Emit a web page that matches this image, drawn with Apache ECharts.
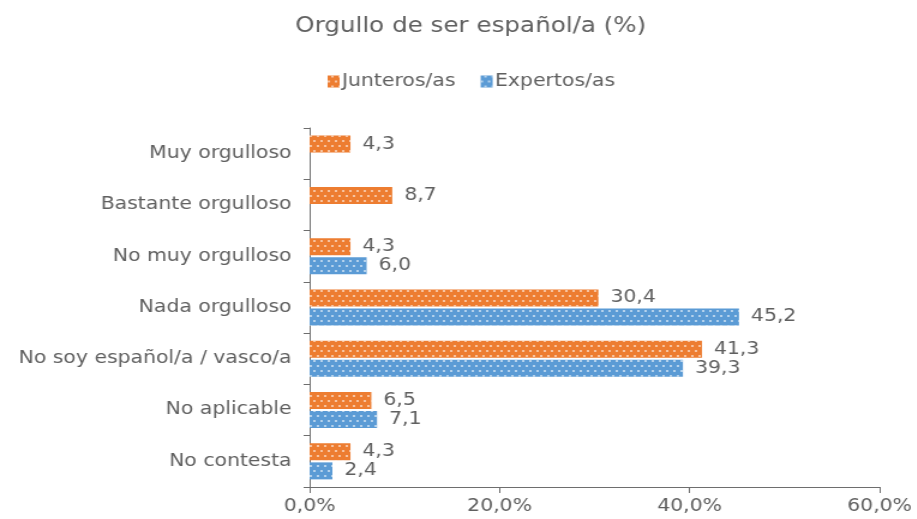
<!DOCTYPE html>
<html>
<head>
<meta charset="utf-8">
<script src="https://cdn.jsdelivr.net/npm/echarts@6/dist/echarts.min.js"></script>
<style>
  html, body { margin: 0; padding: 0; background: #fff; overflow: hidden; }
  /* The chart is laid out on a narrower canvas and widened to fill the page */
  #chart {
    width: 764px;
    height: 519px;
    transform: scaleX(1.2);
    transform-origin: 0 0;
  }
</style>
</head>
<body>
<div id="chart"></div>
<script>
// Categories, top to bottom
const categories = [
  'Muy orgulloso',
  'Bastante orgulloso',
  'No muy orgulloso',
  'Nada orgulloso',
  'No soy español/a / vasco/a',
  'No aplicable',
  'No contesta'
];
const seriesNames = ['Junteros/as', 'Expertos/as'];
const junteros = [4.3, 8.7, 4.3, 30.4, 41.3, 6.5, 4.3];
const expertos = [null, null, 6.0, 45.2, 39.3, 7.1, 2.4];
const xTicks = [0, 20, 40, 60];

const FONT = '"DejaVu Sans", Verdana, sans-serif';
const TEXT = '#606060';
const AXIS = '#6e6e6e';

const fmt = v => v.toFixed(1).replace('.', ',');

// Fine white dot texture laid over the bars
const dots = {
  symbol: 'rect',
  symbolSize: 1,
  color: 'rgba(255,255,255,0.55)',
  dashArrayX: [[1.5, 3.5], [0, 2.5, 1.5, 1]],
  dashArrayY: [1.5, 3],
  rotation: 0
};

function barSeries(name, data, color) {
  return {
    name: name,
    type: 'bar',
    data: data,
    barWidth: 17,
    barGap: '12%',
    itemStyle: { color: color, decal: dots },
    label: {
      show: true,
      position: 'right',
      distance: 10,
      fontFamily: FONT,
      fontSize: 17,
      color: TEXT,
      formatter: p => (p.value == null ? '' : fmt(p.value))
    }
  };
}

const chart = echarts.init(document.getElementById('chart'), null, { renderer: 'canvas' });
chart.setOption({
  animation: false,
  backgroundColor: '#ffffff',
  title: {
    text: 'Orgullo de ser español/a (%)',
    left: 241,
    top: 11,
    textStyle: { fontFamily: FONT, fontSize: 20.5, fontWeight: 'normal', color: TEXT }
  },
  legend: {
    top: 68,
    left: 268,
    itemWidth: 10,
    itemHeight: 12,
    itemGap: 21,
    icon: 'rect',
    textStyle: { fontFamily: FONT, fontSize: 17, color: TEXT, padding: [0, 0, 0, -3] },
    data: seriesNames
  },
  grid: { left: 258, right: 31, top: 128, bottom: 32, containLabel: false },
  xAxis: {
    type: 'value',
    min: xTicks[0],
    max: xTicks[xTicks.length - 1],
    interval: xTicks[1] - xTicks[0],
    splitLine: { show: false },
    axisLine: { show: true, lineStyle: { color: AXIS, width: 1 } },
    axisTick: { show: true, length: 6, lineStyle: { color: AXIS } },
    axisLabel: {
      fontFamily: FONT, fontSize: 17, color: TEXT, margin: 11,
      formatter: v => fmt(v) + '%'
    }
  },
  yAxis: {
    type: 'category',
    inverse: true,
    data: categories,
    axisLine: { show: true, lineStyle: { color: AXIS, width: 1 } },
    axisTick: { show: true, length: 5, lineStyle: { color: AXIS } },
    axisLabel: { fontFamily: FONT, fontSize: 17, color: TEXT, margin: 15 }
  },
  series: [
    barSeries(seriesNames[0], junteros, '#ED7D31'),
    barSeries(seriesNames[1], expertos, '#5B9BD5')
  ]
});
</script>
</body>
</html>
